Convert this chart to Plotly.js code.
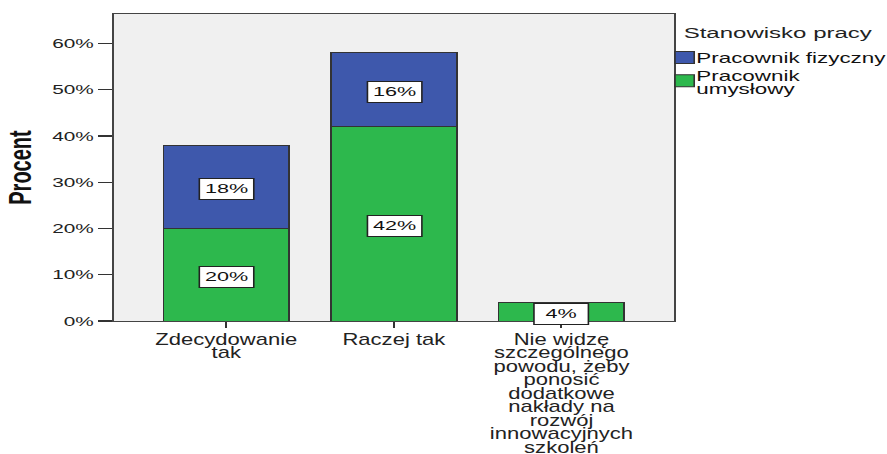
<!DOCTYPE html>
<html><head><meta charset="utf-8">
<script src="https://cdn.plot.ly/plotly-3.0.1.min.js"></script>
<style>
html,body{margin:0;padding:0;background:#fff}
#wrap{width:887px;height:454px;overflow:hidden;position:relative}
#chart{width:600px;height:454px;transform-origin:0 0}
</style>
</head><body><div id="wrap"><div id="chart"></div></div>
<script>
const categories = ["Zdecydowanie<br>tak", "Raczej tak", "Nie widzę<br>szczególnego<br>powodu, żeby<br>ponosić<br>dodatkowe<br>nakłady na<br>rozwój<br>innowacyjnych<br>szkoleń"];
const umyslowy = [20, 42, 4];
const fizyczny = [18, 16, 0];
const seriesNames = ["Pracownik<br>umysłowy", "Pracownik fizyczny"];
const legendTitle = "Stanowisko pracy";
const yTitle = "Procent";
const yTicks = [0, 10, 20, 30, 40, 50, 60];

// the reference is horizontally stretched: draw narrow, then stretch
const S = 887 / 554;
const W = 600;
const plotL = 113 / S, plotR = 674 / S;
document.getElementById("chart").style.transform = "scaleX(" + S + ")";

const green = "#2db84d", blue = "#3e58ac";
const FONT = "Liberation Sans, Arial, sans-serif";
const traces = [
  {type: "bar", x: categories, y: umyslowy, name: seriesNames[0], marker: {color: green, line: {color: "#333", width: 1}}, width: 0.75, hoverinfo: "none"},
  {type: "bar", x: categories, y: fizyczny, name: seriesNames[1], marker: {color: blue, line: {color: "#333", width: 1}}, width: 0.75, hoverinfo: "none"}
];

const annotations = [];
categories.forEach((c, i) => {
  if (umyslowy[i] > 0) annotations.push({x: c, y: umyslowy[i] / 2, text: umyslowy[i] + "%"});
  if (fizyczny[i] > 0) annotations.push({x: c, y: umyslowy[i] + fizyczny[i] / 2, text: fizyczny[i] + "%"});
});
annotations.forEach(a => Object.assign(a, {xref: "x", yref: "y", showarrow: false, yshift: -2, bgcolor: "#fff", bordercolor: "#222", borderwidth: 1, borderpad: 3, width: 27, height: 14, font: {family: FONT, size: 13.5, color: "#111"}}));
annotations.push({xref: "paper", yref: "paper", x: 1.01, y: 0.941, xanchor: "left", yanchor: "middle", showarrow: false, text: legendTitle, font: {family: FONT, size: 15, color: "#222"}});

const layout = {
  width: W, height: 454,
  margin: {l: plotL, r: W - plotR, t: 14, b: 133, autoexpand: false},
  paper_bgcolor: "rgba(0,0,0,0)", plot_bgcolor: "#f0f0f0",
  barmode: "stack",
  showlegend: true,
  legend: {x: 0.96, xanchor: "left", y: 0.9, yanchor: "top", traceorder: "reversed", font: {family: FONT, size: 14, color: "#111"}, tracegroupgap: 0, bgcolor: "rgba(0,0,0,0)"},
  xaxis: {range: [-0.672, 2.672], showline: true, linecolor: "#444", linewidth: 1.3, mirror: true, ticks: "outside", ticklen: 6, tickwidth: 1.2, tickcolor: "#333", tickfont: {family: FONT, size: 16, color: "#222"}, showgrid: false, fixedrange: true},
  yaxis: {range: [0, 66.4], tickvals: yTicks, ticktext: yTicks.map(v => v + "%"), showline: true, linecolor: "#444", linewidth: 1.3, mirror: true, ticks: "outside", ticklen: 8.5, tickwidth: 1.2, tickcolor: "#333", tickfont: {family: FONT, size: 13, color: "#222"}, showgrid: false, zeroline: false,
    title: {text: "<b>" + yTitle + "</b>", font: {family: FONT, size: 20, color: "#111"}, standoff: 7}},
  annotations: annotations,
  font: {family: FONT}
};

function box(el) {
  const b = el.getBBox(), m = el.getCTM();
  return {x: m.a * b.x + m.e, y: m.d * b.y + m.f, w: b.width * m.a, h: b.height * m.d};
}
function parseT(el) {
  const m = /translate\(\s*([-\d.e]+)[ ,]+([-\d.e]+)/.exec(el.getAttribute("transform") || "");
  return m ? [parseFloat(m[1]), parseFloat(m[2])] : [0, 0];
}

Plotly.newPlot("chart", traces, layout, {displayModeBar: false, staticPlot: true}).then(gd => {
  // category labels: narrower glyphs, tight line spacing, first baseline at y=345
  gd.querySelectorAll(".xtick text").forEach(t => {
    const cx = parseFloat(t.getAttribute("x")) || 0;
    const old = t.getAttribute("transform") || "";
    t.setAttribute("transform", old + " translate(" + cx + ",0) scale(0.86,1) translate(" + (-cx) + ",0)");
    const m = t.getCTM();
    const yl = (345 - m.f) / m.d;
    t.setAttribute("y", yl);
    t.querySelectorAll("tspan.line").forEach((sp, k) => { sp.setAttribute("y", yl); sp.setAttribute("dy", (k * 13.45).toString()); });
  });
  // legend layout
  const leg = gd.querySelector("g.legend");
  if (!leg) return;
  const sb = leg.querySelector("g.scrollbox");
  if (sb) sb.removeAttribute("clip-path");
  const items = Array.from(leg.querySelectorAll("g.traces"));
  items.sort((a, b) => parseT(a)[1] - parseT(b)[1]);
  const t0 = parseT(items[0]);
  items.forEach((it, i) => it.setAttribute("transform", "translate(" + t0[0] + "," + (t0[1] + i * 23.3) + ")"));
  const sym0 = items[0].querySelector("path.legendbar") || items[0].querySelector("g.legendpoints path");
  const b0 = box(sym0);
  const lt = parseT(leg);
  leg.setAttribute("transform", "translate(" + (lt[0] + (675 / S - b0.x)) + "," + (lt[1] + (57.5 - (b0.y + b0.h / 2))) + ")");
  items.forEach(it => {
    const sym = it.querySelector("path.legendbar") || it.querySelector("g.legendpoints path");
    const sb2 = box(sym);
    const itx = it.getCTM().e;
    const tx = sb2.x + sb2.w - itx + 1.3;
    const text = it.querySelector("text.legendtext");
    const lines = text.querySelectorAll("tspan.line");
    const n = Math.max(1, lines.length);
    const y0 = n > 1 ? -0.1 : 5.8;
    text.setAttribute("x", tx); text.setAttribute("y", y0);
    lines.forEach((sp, k) => { sp.setAttribute("x", tx); sp.setAttribute("y", y0); sp.setAttribute("dy", (k * 13.6).toString()); });
  });
});
</script></body></html>
